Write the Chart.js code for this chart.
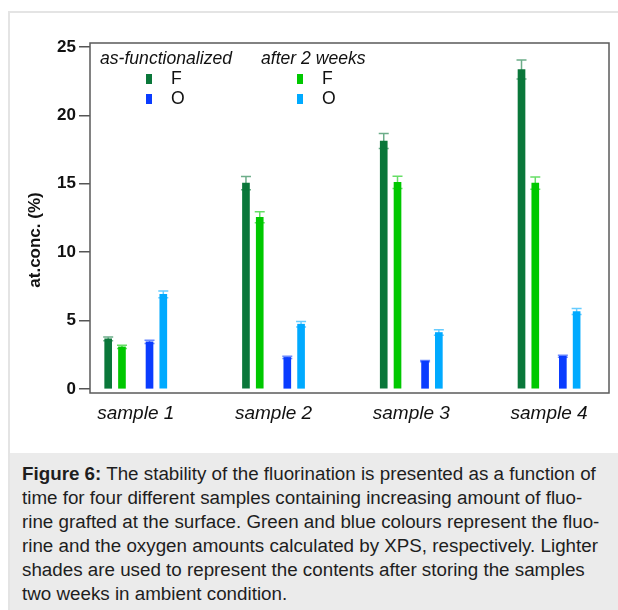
<!DOCTYPE html>
<html>
<head>
<meta charset="utf-8">
<script src="https://cdn.jsdelivr.net/npm/chart.js@4"></script>
<style>
  body { margin: 0; background: #fff; font-family: "Liberation Sans", Arial, sans-serif; }
  #frame { position: absolute; left: 8px; top: 11px; width: 610px; height: 599px;
           border-top: 2px solid #e4e4e4; border-left: 2px solid #e4e4e4; }
  #chartBox { position: absolute; left: 0; top: 0; width: 618px; height: 452px; }
  #caption { position: absolute; left: 10px; top: 453px; width: 608px; height: 157px;
             background: #ebebeb; color: #1e1e1e; font-size: 18.8px; line-height: 24px;
             padding: 9px 0 0 12px; box-sizing: border-box; white-space: nowrap; }
</style>
</head>
<body>
<div id="frame"></div>
<div id="chartBox"><canvas id="fluorChart" width="618" height="452"></canvas></div>
<div id="caption">
  <b>Figure 6:</b> The stability of the fluorination is presented as a function of<br>
  time for four different samples containing increasing amount of fluo-<br>
  rine grafted at the surface. Green and blue colours represent the fluo-<br>
  rine and the oxygen amounts calculated by XPS, respectively. Lighter<br>
  shades are used to represent the contents after storing the samples<br>
  two weeks in ambient condition.
</div>
<script>
// data
const samples = ['sample 1', 'sample 2', 'sample 3', 'sample 4'];
const yTicks = [0, 5, 10, 15, 20, 25];
const groups = ['as-functionalized', 'after 2 weeks'];
const elements = ['F', 'O'];

const fAsFunc = [3.67, 15.05, 18.13, 23.35];
const fAsFuncErr = [0.14, 0.48, 0.55, 0.7];
const fWeeks = [3.08, 12.55, 15.1, 15.05];
const fWeeksErr = [0.12, 0.4, 0.45, 0.45];
const oAsFunc = [3.45, 2.31, 2.04, 2.4];
const oAsFuncErr = [0.12, 0.08, 0.05, 0.07];
const oWeeks = [6.92, 4.74, 4.13, 5.66];
const oWeeksErr = [0.25, 0.2, 0.2, 0.22];

const colDarkGreen = '#0a773a';
const colGreen = '#00c800';
const colBlue = '#0a3cff';
const colLightBlue = '#00aaff';

// bars sit around each sample position, offset to the left / right
function series(values, offset) {
    return values.map((v, i) => ({ x: i + 1 + offset, y: v }));
}

const datasets = [
    { label: 'F as-functionalized', data: series(fAsFunc, -0.2), err: fAsFuncErr, backgroundColor: colDarkGreen },
    { label: 'F after 2 weeks', data: series(fWeeks, -0.1), err: fWeeksErr, backgroundColor: colGreen },
    { label: 'O as-functionalized', data: series(oAsFunc, 0.1), err: oAsFuncErr, backgroundColor: colBlue },
    { label: 'O after 2 weeks', data: series(oWeeks, 0.2), err: oWeeksErr, backgroundColor: colLightBlue }
];

const errorBars = {
    id: 'errorBars',
    afterDatasetsDraw(chart) {
        const ctx = chart.ctx;
        const yScale = chart.scales.y;
        chart.data.datasets.forEach((ds, di) => {
            const meta = chart.getDatasetMeta(di);
            ctx.save();
            ctx.strokeStyle = ds.backgroundColor;
            ctx.globalAlpha = 0.6;
            ctx.lineWidth = 1.5;
            meta.data.forEach((bar, i) => {
                const v = ds.data[i].y;
                const top = yScale.getPixelForValue(v + ds.err[i]);
                const bot = yScale.getPixelForValue(v - ds.err[i]);
                ctx.beginPath();
                ctx.moveTo(bar.x, top); ctx.lineTo(bar.x, bot);
                ctx.moveTo(bar.x - 5, top); ctx.lineTo(bar.x + 5, top);
                ctx.moveTo(bar.x - 5, bot); ctx.lineTo(bar.x + 5, bot);
                ctx.stroke();
            });
            ctx.restore();
        });
    }
};

const frameAndText = {
    id: 'frameAndText',
    afterDraw(chart) {
        const ctx = chart.ctx;
        const a = chart.chartArea;
        ctx.save();
        ctx.strokeStyle = '#5a5a5a';
        ctx.lineWidth = 1.5;
        ctx.strokeRect(a.left, a.top, a.right - a.left, a.bottom - a.top);

        // y axis title
        ctx.fillStyle = '#111';
        ctx.font = 'bold 17px "Liberation Sans", Arial, sans-serif';
        ctx.textAlign = 'center';
        ctx.textBaseline = 'middle';
        ctx.translate(35, 240);
        ctx.rotate(-Math.PI / 2);
        ctx.fillText('at.conc. (%)', 0, 0);
        ctx.restore();

        // legend
        ctx.save();
        ctx.fillStyle = '#111';
        ctx.textBaseline = 'middle';
        ctx.textAlign = 'left';
        ctx.font = 'italic 17.6px "Liberation Sans", Arial, sans-serif';
        ctx.fillText(groups[0], 100, 59);
        ctx.fillText(groups[1], 261, 59);
        const swatches = [[colDarkGreen, colBlue], [colGreen, colLightBlue]];
        const gx = [146, 297];
        ctx.font = '17.6px "Liberation Sans", Arial, sans-serif';
        for (let g = 0; g < 2; g++) {
            for (let e = 0; e < 2; e++) {
                const y = 79 + e * 20;
                ctx.fillStyle = swatches[g][e];
                ctx.fillRect(gx[g], y - 5, 6, 10);
                ctx.fillStyle = '#111';
                ctx.fillText(elements[e], gx[g] + 25, y);
            }
        }
        ctx.restore();
    }
};

new Chart(document.getElementById('fluorChart'), {
    type: 'bar',
    data: { datasets: datasets },
    options: {
        responsive: false,
        animation: false,
        layout: { padding: { top: 43, right: 9, bottom: 0, left: 0 } },
        datasets: { bar: { grouped: false, barThickness: 7 } },
        plugins: { legend: { display: false }, tooltip: { enabled: false } },
        scales: {
            x: {
                type: 'linear',
                offset: false,
                min: 0.668,
                max: 4.435,
                afterFit: s => { s.height = 59; },
                afterBuildTicks: s => { s.ticks = samples.map((_, i) => ({ value: i + 1 })); },
                grid: { display: false },
                border: { display: false },
                ticks: {
                    autoSkip: false,
                    maxRotation: 0,
                    padding: 1,
                    color: '#111',
                    font: { family: '"Liberation Sans", Arial, sans-serif', size: 19, style: 'italic' },
                    callback: v => samples[v - 1]
                }
            },
            y: {
                min: -0.29,
                max: 25.29,
                afterFit: s => { s.width = 90; },
                afterBuildTicks: s => { s.ticks = yTicks.map(v => ({ value: v })); },
                grid: { drawOnChartArea: false, drawTicks: true, tickLength: 11, color: '#555', lineWidth: 1.5 },
                border: { display: false },
                ticks: {
                    padding: 3,
                    color: '#111',
                    font: { family: '"Liberation Sans", Arial, sans-serif', size: 17, weight: 'bold' }
                }
            }
        }
    },
    plugins: [errorBars, frameAndText]
});
</script>
</body>
</html>
